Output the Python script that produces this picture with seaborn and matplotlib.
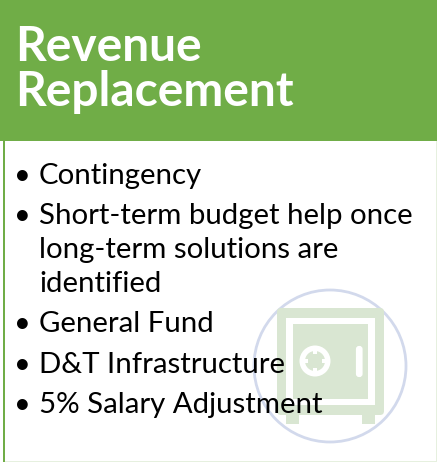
#!/usr/bin/env python3
"""Revenue Replacement card"""

import matplotlib
matplotlib.use("Agg")
import matplotlib.pyplot as plt
from matplotlib.patches import Circle, FancyBboxPatch, Rectangle
import seaborn as sns

title_lines = ["Revenue", "Replacement"]
title_y = [47, 92]

bullet_lines = [
    ("•", "Contingency"),
    ("•", "Short-term budget help once"),
    ("", "long-term solutions are"),
    ("", "identified"),
    ("•", "General Fund"),
    ("•", "D&T Infrastructure"),
    ("•", "5% Salary Adjustment"),
]
bullet_y = [176, 216, 250, 284, 324, 365, 405]

GREEN = "#70ad47"
SAFE = "#d9e6d2"
RING = "#d2d9ec"

sns.set_theme(style="white")
plt.rcParams['font.family'] = ['Lato', 'DejaVu Sans']

fig = plt.figure(figsize=(4.37, 4.62), dpi=100)
ax = fig.add_axes([0, 0, 1, 1])
ax.set_xlim(0, 437)
ax.set_ylim(462, 0)
ax.axis("off")

# Card frame
ax.add_patch(Rectangle((0, 0), 437, 141, color=GREEN, lw=0))
ax.add_patch(Rectangle((3, 141), 2.2, 321, color=GREEN, lw=0))
ax.add_patch(Rectangle((5, 460.5), 432, 1.5, color="#e6f0df", lw=0))
ax.add_patch(Rectangle((435.5, 141), 1.5, 321, color="#e6f0df", lw=0))

# Safe icon
ax.add_patch(Circle((330, 366), 76, fill=False, ec=RING, lw=2))
ax.add_patch(FancyBboxPatch((280, 311), 101, 101, boxstyle="round,pad=3,rounding_size=4", fc=SAFE, ec="none"))
ax.add_patch(Rectangle((286, 413), 13, 11, color=SAFE, lw=0))
ax.add_patch(Rectangle((362, 413), 13, 11, color=SAFE, lw=0))
ax.add_patch(Rectangle((286, 318), 89, 87, color="white", lw=0))
ax.add_patch(Rectangle((293, 324), 75, 75, color=SAFE, lw=0))
ax.add_patch(Circle((315, 361), 15.5, color="white", lw=0))
ax.add_patch(Circle((315, 361), 10, color=SAFE, lw=0))
# notches on the dial
for dx, dy in [(-2, -11), (-2, 7), (-11, -2), (7, -2)]:
    ax.add_patch(Rectangle((315 + dx, 361 + dy), 4, 4, color="white", lw=0))
ax.add_patch(FancyBboxPatch((358, 348), 2.5, 27, boxstyle="round,pad=0,rounding_size=1.2", fc="white", ec="white", lw=3))

# Text
for line, y in zip(title_lines, title_y):
    ax.text(15.5, y, line, color="white", fontsize=34.5, fontweight="bold", va="center", ha="left")

for (mark, line), y in zip(bullet_lines, bullet_y):
    if mark:
        ax.text(14, y, mark, color="black", fontsize=21, va="center", ha="left")
    ax.text(39, y, line, color="black", fontsize=21.2, va="center", ha="left")

fig.savefig("out.png", dpi=100)
